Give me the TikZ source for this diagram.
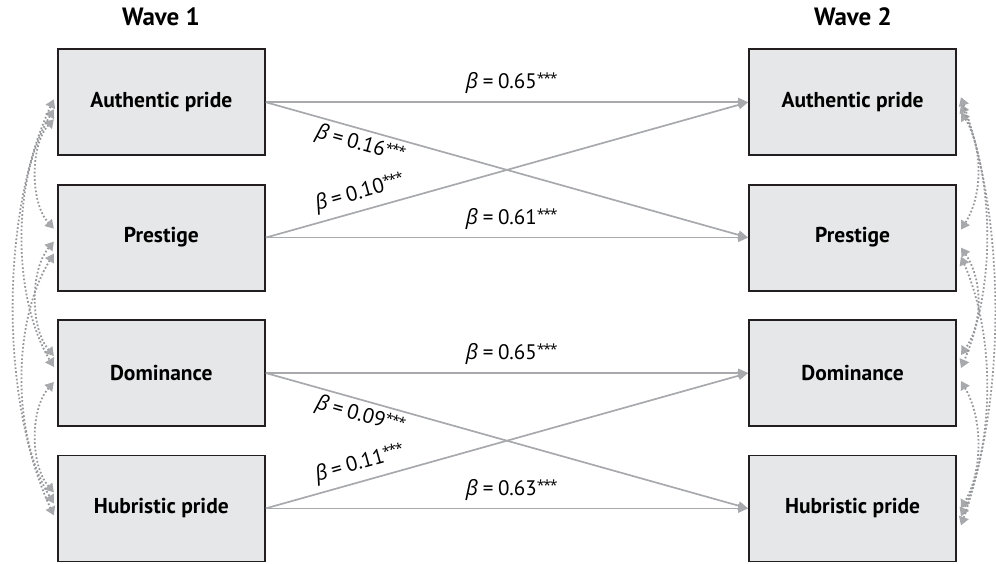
\documentclass[tikz,border=0pt]{standalone}
\usepackage{fontspec}
\setmainfont{PT Sans}
\newfontfamily\grk{Open Sans}
\usetikzlibrary{arrows.meta}
\definecolor{boxfill}{RGB}{230,231,232}
\definecolor{boxline}{RGB}{35,31,32}
\definecolor{arr}{RGB}{167,169,172}
\definecolor{dotc}{RGB}{150,151,154}
\newcommand{\stars}{{\grk\fontsize{14}{14}\selectfont\raisebox{0.35em}{*\kern-1.2pt*\kern-1.2pt*}}}
\newcommand{\bcoef}[1]{{\grk\itshape β}\hspace{0.22em}=\hspace{0.22em}#1\stars}
\begin{document}
\begin{tikzpicture}[x=1pt,y=-1pt,
  var/.style={draw=boxline, line width=1.8pt, fill=boxfill, minimum width=207pt, minimum height=106pt, inner sep=0pt, font=\fontsize{21.5}{25}\selectfont\bfseries},
  head/.style={font=\fontsize{25}{29}\selectfont\bfseries, inner sep=0pt},
  path/.style={draw=arr, line width=1.7pt, -{Triangle[length=10pt,width=8.5pt]}},
  lab/.style={font=\fontsize{21}{25}\selectfont, inner sep=0pt, text=black},
  corr/.style={draw=dotc, line width=1.8pt, dash pattern=on 1.7pt off 2.1pt, {Triangle[length=8.5pt,width=10pt,color=arr]}-{Triangle[length=8.5pt,width=10pt,color=arr]}}
]
\useasboundingbox (0,0) rectangle (996,563);
\node[head] (w1) at (161,17) {Wave 1};
\node[head] (w2) at (853,17) {Wave 2};
\node[var] (L1) at (161.3,102.2) {Authentic pride};
\node[var] (L2) at (161.3,237.6) {Prestige};
\node[var] (L3) at (161.3,373) {Dominance};
\node[var] (L4) at (161.3,508.4) {Hubristic pride};
\node[var] (R1) at (852.6,102.2) {Authentic pride};
\node[var] (R2) at (852.6,237.6) {Prestige};
\node[var] (R3) at (852.6,373) {Dominance};
\node[var] (R4) at (852.6,508.4) {Hubristic pride};
% paths
\draw[path] (L1.east) -- node[lab, pos=0.51, above=8pt] {\bcoef{0.65}} (R1.west);
\draw[path] (L1.east) -- node[lab, pos=0.205, sloped, below=4pt] {\bcoef{0.16}} (R2.west);
\draw[path] (L2.east) -- node[lab, pos=0.205, sloped, above=6pt] {\bcoef{0.10}} (R1.west);
\draw[path] (L2.east) -- node[lab, pos=0.51, above=7pt] {\bcoef{0.61}} (R2.west);
\draw[path] (L3.east) -- node[lab, pos=0.51, above=8pt] {\bcoef{0.65}} (R3.west);
\draw[path] (L3.east) -- node[lab, pos=0.205, sloped, below=4pt] {\bcoef{0.09}} (R4.west);
\draw[path] (L4.east) -- node[lab, pos=0.205, sloped, above=6pt] {\bcoef{0.11}} (R3.west);
\draw[path] (L4.east) -- node[lab, pos=0.51, above=7pt] {\bcoef{0.63}} (R4.west);
% endpoint coordinates, left
\coordinate (L1a) at ([shift={(-3,-3)}]L1.west);
\coordinate (L1b) at ([shift={(-3,7)}]L1.west);
\coordinate (L1c) at ([shift={(-3,17)}]L1.west);
\coordinate (L2a) at ([shift={(-3,-9)}]L2.west);
\coordinate (L2b) at ([shift={(-3,4)}]L2.west);
\coordinate (L2c) at ([shift={(-3,16)}]L2.west);
\coordinate (L3a) at ([shift={(-3,-17)}]L3.west);
\coordinate (L3b) at ([shift={(-3,-6)}]L3.west);
\coordinate (L3c) at ([shift={(-3,9)}]L3.west);
\coordinate (L4a) at ([shift={(-3,-16)}]L4.west);
\coordinate (L4b) at ([shift={(-3,-5)}]L4.west);
\coordinate (L4c) at ([shift={(-3,7)}]L4.west);
% right
\coordinate (R1a) at ([shift={(4,-5)}]R1.east);
\coordinate (R1b) at ([shift={(4,2)}]R1.east);
\coordinate (R1c) at ([shift={(4,10)}]R1.east);
\coordinate (R2a) at ([shift={(4,-8)}]R2.east);
\coordinate (R2b) at ([shift={(4,10)}]R2.east);
\coordinate (R2c) at ([shift={(4,19)}]R2.east);
\coordinate (R3a) at ([shift={(4,-18)}]R3.east);
\coordinate (R3b) at ([shift={(4,-5)}]R3.east);
\coordinate (R3c) at ([shift={(4,8)}]R3.east);
\coordinate (R4a) at ([shift={(4,0)}]R4.east);
\coordinate (R4b) at ([shift={(4,8)}]R4.east);
\coordinate (R4c) at ([shift={(4,17)}]R4.east);
% left correlations
\draw[corr] (L1c) .. controls (30,145) and (30,203) .. (L2a);
\draw[corr] (L2b) .. controls (30,270) and (30,328) .. (L3a);
\draw[corr] (L3c) .. controls (30,409) and (30,465) .. (L4a);
\draw[corr] (L1b) .. controls (12,180) and (12,297) .. (L3b);
\draw[corr] (L2c) .. controls (12,322) and (12,435) .. (L4b);
\draw[corr] (L1a) .. controls (0,215) and (0,400) .. (L4c);
% right correlations
\draw[corr] (R1c) .. controls (983,147) and (983,195) .. (R2a);
\draw[corr] (R2b) .. controls (983,280) and (983,323) .. (R3a);
\draw[corr] (R3c) .. controls (983,419) and (983,470) .. (R4a);
\draw[corr] (R1b) .. controls (995,183) and (995,289) .. (R3b);
\draw[corr] (R2c) .. controls (995,335) and (995,438) .. (R4b);
\draw[corr] (R1a) .. controls (1006,225) and (1006,397) .. (R4c);
\end{tikzpicture}
\end{document}
